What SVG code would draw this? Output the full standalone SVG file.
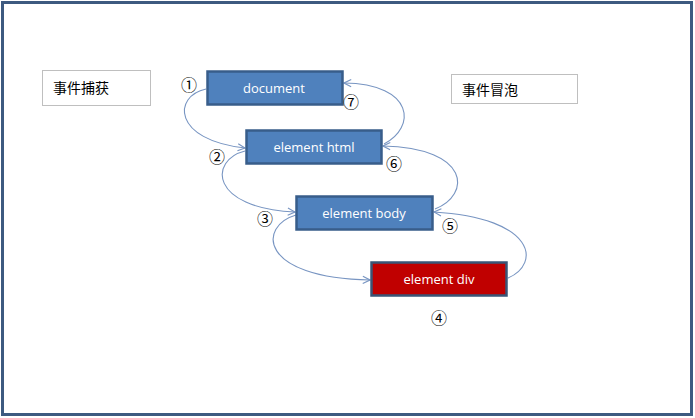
<svg xmlns="http://www.w3.org/2000/svg" width="695" height="418" viewBox="0 0 695 418">
<style>
.node rect{fill:#4f81bd;stroke:#385d8a;stroke-width:2.5}
.node.red rect{fill:#c00000;stroke:#3a5576}
.node text{fill:#ffffff;font-family:"Open Sans","DejaVu Sans",sans-serif;font-size:13px;text-anchor:middle}
.lbl rect{fill:#ffffff;stroke:#bfbfbf;stroke-width:1}
.lbl text{fill:#000;font-family:"Noto Sans CJK SC",sans-serif;font-size:14px}
.num{font-family:"Noto Sans CJK SC","DejaVu Sans",sans-serif;font-size:16px;text-anchor:middle;fill:#000}
.conn path{fill:none;stroke:#7895c2;stroke-width:1.1;marker-end:url(#arr)}
</style>
<defs>
<marker id="arr" viewBox="0 0 10 10" refX="9" refY="5" markerWidth="9" markerHeight="9" markerUnits="userSpaceOnUse" orient="auto">
<path d="M1,1 L9,5 L1,9" fill="none" stroke="#7895c2" stroke-width="1.3"/>
</marker>
</defs>
<rect x="0" y="0" width="695" height="418" fill="#ffffff"/>
<rect x="2.5" y="2.5" width="689" height="412" fill="none" stroke="#3d5a80" stroke-width="3"/>
<g id="label-capture" class="lbl"><rect x="42.5" y="70.5" width="108" height="35"/><text x="53" y="93">事件捕获</text></g>
<g id="label-bubble" class="lbl"><rect x="451.5" y="74.5" width="126" height="29"/><text x="462" y="95">事件冒泡</text></g>
<g class="conn" id="connectors">
<path d="M206,89 C173,96 172,140 245,148"/>
<path d="M245,151 C209,160 209,208 295,212"/>
<path d="M296,215 C258,226 258,278 370,280"/>
<path d="M508,278 C541,264 536,218 434,212"/>
<path d="M435,209 C471,195 471,148 383,146"/>
<path d="M384,144 C416,128 415,84 344,83"/>
</g>
<g id="document" class="node"><rect x="207.5" y="71.5" width="135" height="33"/><text x="274" y="92.5">document</text></g>
<g id="html" class="node"><rect x="246.5" y="130.5" width="135" height="33"/><text x="314" y="151.5">element html</text></g>
<g id="body" class="node"><rect x="296.5" y="196.5" width="136" height="33"/><text x="364" y="217.5">element body</text></g>
<g id="div" class="node red"><rect x="371.5" y="262.5" width="135" height="33"/><text x="439" y="283.5">element div</text></g>
<g id="numbers">
<text class="num" x="189" y="91">①</text>
<text class="num" x="217" y="163">②</text>
<text class="num" x="265" y="225">③</text>
<text class="num" x="439" y="324">④</text>
<text class="num" x="450" y="232">⑤</text>
<text class="num" x="394" y="170">⑥</text>
<text class="num" x="351" y="108">⑦</text>
</g>
</svg>
